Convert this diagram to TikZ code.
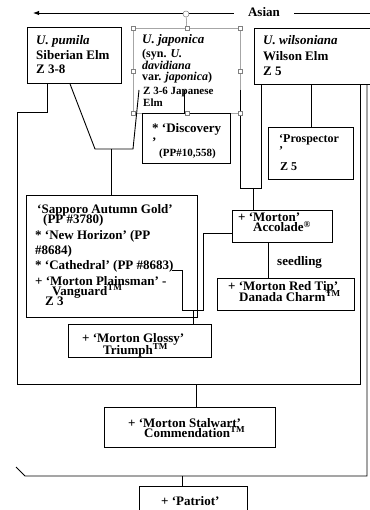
\documentclass[tikz,border=0pt]{standalone}
\usepackage{fontspec}
\setmainfont{Liberation Serif}
\usetikzlibrary{arrows.meta}
\begin{document}
\begin{tikzpicture}[x=1pt,y=-1pt,
  box/.style={draw, line width=0.9pt, anchor=north west, inner sep=0pt},
  conn/.style={draw, line width=0.9pt},
  txt/.style={anchor=base west, inner sep=0pt, font=\fontsize{13}{15}\selectfont\bfseries},
  txtm/.style={txt, font=\fontsize{12}{14}\selectfont\bfseries},
  txts/.style={txt, font=\fontsize{11}{13}\selectfont\bfseries},
  handle/.style={draw=gray, fill=white, line width=0.5pt, minimum size=4pt, inner sep=0pt}]
\useasboundingbox (0,0) rectangle (369,510);

% boxes
\node[box, minimum width=94pt, minimum height=56pt] (pumila) at (27,27) {};
\node[box, draw=gray!70, line width=0.6pt, minimum width=107pt, minimum height=85pt] (japonica) at (133,28) {};
\node[box, minimum width=120pt, minimum height=56pt] (wilson) at (254,28) {};
\node[box, minimum width=88pt, minimum height=50pt] (discovery) at (142,113) {};
\node[box, minimum width=85pt, minimum height=52pt] (prospector) at (268,127) {};
\node[box, minimum width=171pt, minimum height=122pt] (sapporo) at (26,195) {};
\node[box, minimum width=100pt, minimum height=32pt] (accolade) at (232,210) {};
\node[box, minimum width=137pt, minimum height=32pt] (redtip) at (217,278) {};
\node[box, minimum width=143pt, minimum height=33pt] (glossy) at (68,324) {};
\node[box, minimum width=171pt, minimum height=40pt] (stalwart) at (104,407) {};
\node[box, minimum width=108pt, minimum height=32pt] (patriot) at (139,486) {};

% top arrow
\coordinate (aL) at (33,13);
\coordinate (aR) at (372,13);
\draw[conn, -{Latex[length=6pt,width=4.5pt]}] (aR) -- (aL);
\node[anchor=base, fill=white, inner xsep=14pt, inner ysep=1pt, font=\fontsize{13}{15}\selectfont\bfseries] (asian) at (264,17) {Asian};

% connectors
\coordinate (p1) at (95,149);
\coordinate (p2) at (133,149);
\coordinate (p3) at (139,90);
\coordinate (p4) at (111,149);
\draw[conn] ([xshift=43pt]pumila.south west) -- (p1) -- (p2) -- (p3);
\draw[conn] (p4) -- (sapporo.north -| p4);

\coordinate (q1) at (47,112);
\coordinate (q2) at (17,112);
\coordinate (q3) at (17,384);
\coordinate (q4) at (360,384);
\coordinate (q5) at (196,384);
\draw[conn] (pumila.south -| q1) -- (q1) -- (q2) -- (q3) -- (q4) -- (wilson.south -| q4);
\draw[conn] (q5) -- (stalwart.north -| q5);

\coordinate (r0) at (16,467);
\coordinate (r1) at (25,476);
\coordinate (r2) at (367,476);
\coordinate (r3) at (182,476);
\draw[conn] (r0) -- (r1) -- (r2) -- (wilson.south -| r2);
\draw[conn] (r3) -- (patriot.north -| r3);

\coordinate (s0) at (240,90);
\coordinate (s1) at (240,188);
\coordinate (s2) at (261,188);
\coordinate (s3) at (253,188);
\draw[conn] (s0) -- (s1) -- (s2) -- (wilson.south -| s2);
\draw[conn] (s3) -- (accolade.north -| s3);

\draw[conn] (prospector.north |- wilson.south) -- (prospector.north);

\coordinate (u0) at (184,90);
\draw[conn] (u0) -- (discovery.north -| u0);

\coordinate (v0) at (172,270);
\coordinate (v1) at (182,270);
\coordinate (v2) at (182,310);
\coordinate (v3) at (203,310);
\coordinate (v4) at (203,233);
\coordinate (v5) at (193,310);
\draw[conn] (v0) -- (v1) -- (v2) -- (v3) -- (v4) -- (accolade.west |- v4);
\draw[conn] (v5) -- (glossy.north -| v5);

\coordinate (w0) at (268,242);
\draw[conn] (accolade.south -| w0) -- (redtip.north -| w0);
\node[txt] (seed) at (277,265) {seedling};

% selection handles of the japonica box
\node[handle, circle, minimum size=6pt] (rot) at (186,14) {};
\draw[gray, line width=0.5pt] (rot) -- (japonica.north);
\foreach \p/\n in {north west/h1, north/h2, north east/h3, west/h4, east/h5, south west/h6, south/h7, south east/h8}
  \node[handle] (\n) at (japonica.\p) {};

% texts
\node[txt] (pu1) at (36,45) {\itshape U. pumila};
\node[txt] (pu2) at (36,59.5) {Siberian Elm};
\node[txt] (pu3) at (36,74) {Z 3-8};

\node[txt] (ja1) at (142,44) {\itshape U. japonica};
\node[txtm] (ja2) at (142,58) {(syn. \itshape U.};
\node[txtm] (ja3) at (142,70) {\itshape davidiana};
\node[txtm] (ja4) at (142,81) {var. \textit{japonica})};
\node[txts] (ja5) at (143,95) {Z 3-6 Japanese};
\node[txts] (ja6) at (143,107) {Elm};

\node[txt] (wi1) at (263,45) {\itshape U. wilsoniana};
\node[txt] (wi2) at (263,61) {Wilson Elm};
\node[txt] (wi3) at (263,76) {Z 5};

\node[txt] (di1) at (152,133) {* ‘Discovery};
\node[txt] (di2) at (152,147) {’};
\node[txts] (di3) at (159,157) {(PP\#10,558)};

\node[txtm] (pr1) at (279,143) {‘Prospector};
\node[txtm] (pr2) at (279,155) {’};
\node[txtm] (pr3) at (280,171) {Z 5};

\node[txt] (sa1) at (37,214) {‘Sapporo Autumn Gold’};
\node[txt] (sa2) at (43,223) {(PP \#3780)};
\node[txt] (sa3) at (35,239) {* ‘New Horizon’ (PP};
\node[txt] (sa4) at (35,254) {\#8684)};
\node[txt] (sa5) at (35,269) {* ‘Cathedral’ (PP \#8683)};
\node[txt] (sa6) at (35,285) {+ ‘Morton Plainsman’ -};
\node[txt] (sa7) at (52,295) {Vanguard\textsuperscript{TM}};
\node[txt] (sa8) at (45,305) {Z 3};

\node[txt] (ac1) at (238,222) {+ ‘Morton’};
\node[txt] (ac2) at (253,232) {Accolade\textsuperscript{®}};

\node[txt] (rt1) at (228,290) {+ ‘Morton Red Tip’};
\node[txt] (rt2) at (239,301) {Danada Charm\textsuperscript{TM}};

\node[txt] (gl1) at (82,342) {+ ‘Morton Glossy’};
\node[txt] (gl2) at (103,354) {Triumph\textsuperscript{TM}};

\node[txt] (st1) at (128,427) {+ ‘Morton Stalwart’};
\node[txt] (st2) at (144,437) {Commendation\textsuperscript{TM}};

\node[txt] (pa1) at (161,505) {+ ‘Patriot’};
\end{tikzpicture}
\end{document}
